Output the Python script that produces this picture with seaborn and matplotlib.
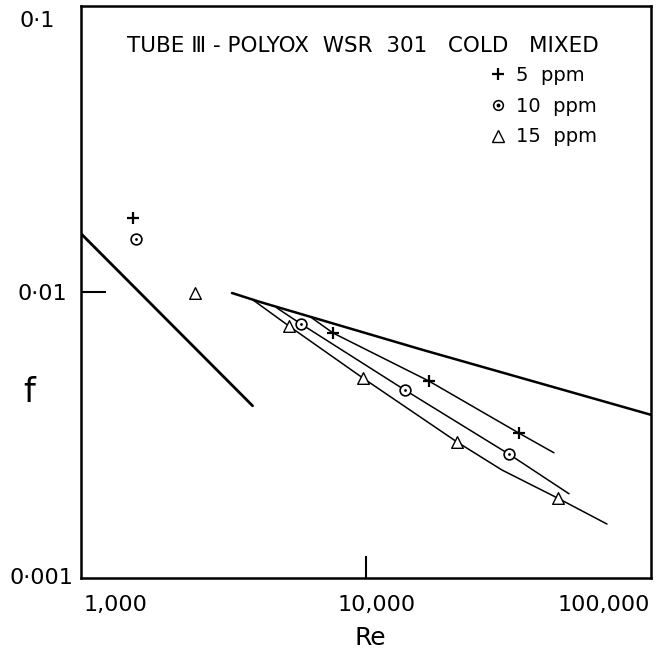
import matplotlib
matplotlib.use("Agg")
import matplotlib.pyplot as plt
from matplotlib.lines import Line2D
from matplotlib.legend_handler import HandlerTuple
import matplotlib.transforms as mtransforms
import numpy as np
import pandas as pd
import seaborn as sns

# ---------------- data ----------------
re_lam = [1000, 4000]
f_lam = [0.016, 0.004]

re_newt = [3387, 4248, 15850, 100000]
f_newt = [0.00992, 0.00923, 0.00627, 0.00372]

re_5 = [1522, 7660, 16640, 34420]
f_5 = [0.01814, 0.00719, 0.00488, 0.00321]
re_5_curve = [6463, 7660, 16640, 34420, 45660]
f_5_curve = [0.00811, 0.00719, 0.00488, 0.00321, 0.00274]

re_10 = [1560, 5914, 13700, 31750]
f_10 = [0.01532, 0.00773, 0.00454, 0.00271]
re_10_curve = [4872, 5914, 13700, 31750, 51570]
f_10_curve = [0.00879, 0.00773, 0.00454, 0.00271, 0.00197]

re_15 = [2512, 5370, 9760, 20860, 47180]
f_15 = [0.00992, 0.00760, 0.00500, 0.00299, 0.00190]
re_15_curve = [4013, 5370, 9760, 20860, 30010, 47180, 70080]
f_15_curve = [0.00938, 0.00760, 0.00500, 0.00299, 0.002385, 0.00190, 0.001544]

x_ticks = [1000, 10000, 100000]
x_tick_labels = ["1,000", "10,000", "100,000"]
y_ticks = [0.001, 0.01, 0.1]
y_tick_labels = ["0·001", "0·01", "0·1"]

title = "TUBE \u2162 - POLYOX  WSR  301   COLD   MIXED"
legend_labels = ["5  ppm", "10  ppm", "15  ppm"]

# ---------------- style ----------------
sns.set_theme(style="white")
plt.rcParams["font.family"] = ["DejaVu Sans"]
plt.rcParams.update({"text.color": "black", "axes.labelcolor": "black",
                     "xtick.color": "black", "ytick.color": "black"})

fig = plt.figure(figsize=(6.69, 6.59), dpi=100)
ax = fig.add_axes([81 / 669, 1 - 578 / 659, 570 / 669, 572 / 659])

# lines
sns.lineplot(x=re_lam, y=f_lam, ax=ax, color="black", lw=2.0, sort=False, zorder=2)
sns.lineplot(x=re_newt, y=f_newt, ax=ax, color="black", lw=1.8, sort=False, zorder=2)
for rx, fy in [(re_5_curve, f_5_curve), (re_10_curve, f_10_curve), (re_15_curve, f_15_curve)]:
    sns.lineplot(x=rx, y=fy, ax=ax, color="black", lw=1.1, sort=False, zorder=2)

# markers
sns.scatterplot(x=re_5, y=f_5, ax=ax, marker="+", s=70, color="black", linewidth=1.6, zorder=4)
sns.scatterplot(x=re_10, y=f_10, ax=ax, marker="o", s=60, facecolor="white",
                edgecolor="black", linewidth=1.2, zorder=4)
sns.scatterplot(x=re_10, y=f_10, ax=ax, marker="o", s=4, color="black", linewidth=0, zorder=5)
sns.scatterplot(x=re_15, y=f_15, ax=ax, marker="^", s=70, facecolor="white",
                edgecolor="black", linewidth=1.0, zorder=4)

ax.set_xscale("log")
ax.set_yscale("log")
ax.set_xlim(1000, 100000)
ax.set_ylim(0.001, 0.1)

ax.minorticks_off()
ax.set_xticks(x_ticks)
ax.set_xticklabels(x_tick_labels, fontsize=16)
ax.set_yticks(y_ticks)
ax.set_yticklabels(y_tick_labels, fontsize=16)
ax.tick_params(axis="both", which="major", direction="in", width=1.5, color="black",
               bottom=True, left=True, top=False, right=False)
ax.tick_params(axis="x", length=16, pad=12)
ax.tick_params(axis="y", length=18, pad=10)

# keep only the inner tick marks at 0.01 and 10,000
for i, t in enumerate(ax.xaxis.get_major_ticks()):
    if i != 1:
        t.tick1line.set_visible(False)
for i, t in enumerate(ax.yaxis.get_major_ticks()):
    if i != 1:
        t.tick1line.set_visible(False)

# hand-lettered label offsets (pixels)
shifts_x = [35, 11, -47]
for lab, dx in zip(ax.get_xticklabels(), shifts_x):
    lab.set_transform(lab.get_transform() + mtransforms.ScaledTranslation(dx / 100, 0, fig.dpi_scale_trans))
shifts_y = [(6, 2), (0, 0), (-12, -13)]
for lab, (dx, dy) in zip(ax.get_yticklabels(), shifts_y):
    lab.set_transform(lab.get_transform() + mtransforms.ScaledTranslation(dx / 100, dy / 100, fig.dpi_scale_trans))

for sp in ax.spines.values():
    sp.set_color("black")
    sp.set_linewidth(1.8)

ax.set_xlabel("Re", fontsize=18, va="center", ha="center")
ax.xaxis.set_label_coords((370 - 81) / 570, -(638 - 578) / 572)
ax.set_ylabel("f", fontsize=24, rotation=0, va="center", ha="center")
ax.yaxis.set_label_coords(-(81 - 29) / 570, (578 - 392) / 572)

ax.text((363 - 81) / 570, 1 - (46 - 6) / 572, title, transform=ax.transAxes,
        ha="center", va="center", fontsize=15.5)

# legend
h5 = Line2D([], [], marker="+", color="black", linestyle="none", markersize=9, markeredgewidth=1.6)
h10a = Line2D([], [], marker="o", color="black", markerfacecolor="white", linestyle="none",
              markersize=7, markeredgewidth=1.1)
h10b = Line2D([], [], marker="o", color="black", linestyle="none", markersize=1.8)
h15 = Line2D([], [], marker="^", color="black", markerfacecolor="white", linestyle="none",
             markersize=8, markeredgewidth=1.0)
ax.legend([h5, (h10a, h10b), h15], legend_labels, loc="upper left",
          bbox_to_anchor=((489 - 81) / 570, 1 - (66 - 6) / 572), frameon=False, fontsize=14,
          handlelength=0.9, handletextpad=0.5, labelspacing=0.6, borderpad=0,
          borderaxespad=0, handler_map={tuple: HandlerTuple(ndivide=1, pad=0)})

fig.savefig("out.png", dpi=100)
